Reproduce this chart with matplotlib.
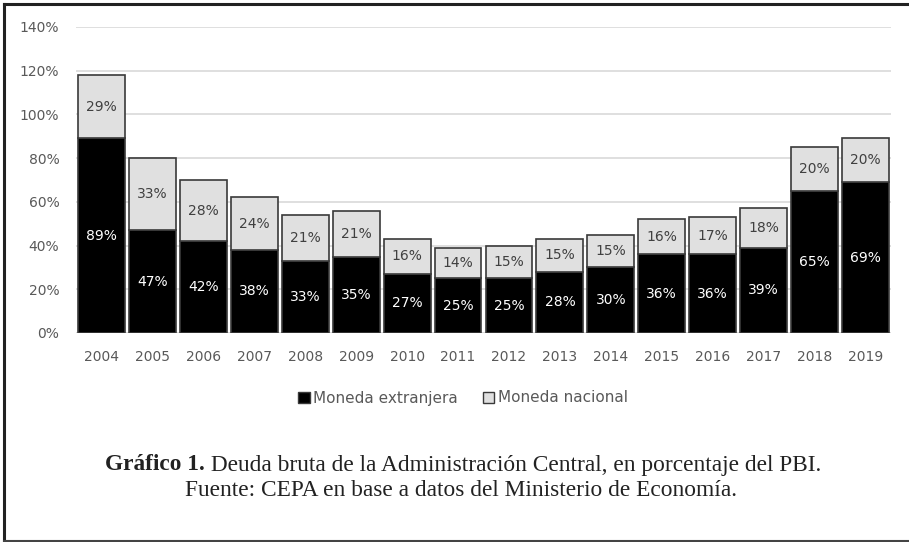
import matplotlib
matplotlib.use("Agg")
import matplotlib.pyplot as plt
from matplotlib.lines import Line2D
from matplotlib.patches import Patch

years = ["2004", "2005", "2006", "2007", "2008", "2009", "2010", "2011",
         "2012", "2013", "2014", "2015", "2016", "2017", "2018", "2019"]
moneda_extranjera = [89, 47, 42, 38, 33, 35, 27, 25, 25, 28, 30, 36, 36, 39, 65, 69]
moneda_nacional = [29, 33, 28, 24, 21, 21, 16, 14, 15, 15, 15, 16, 17, 18, 20, 20]
yticks = [0, 20, 40, 60, 80, 100, 120, 140]

W, H = 909, 542
fig = plt.figure(figsize=(W / 100, H / 100), dpi=100)
ax = fig.add_axes([76 / W, (H - 333) / H, (891 - 76) / W, 306 / H])

x = list(range(len(years)))
edge = "#3a3a3a"
ax.bar(x, moneda_extranjera, width=0.92, color="#000000", edgecolor=edge, linewidth=1.2, zorder=3)
ax.bar(x, moneda_nacional, bottom=moneda_extranjera, width=0.92, color="#e0e0e0",
       edgecolor=edge, linewidth=1.2, zorder=3)

for i in x:
    me = moneda_extranjera[i]
    mn = moneda_nacional[i]
    ax.text(i, me / 2, f"{me}%", ha="center", va="center", color="white", fontsize=10, zorder=4)
    ax.text(i, me + mn / 2, f"{mn}%", ha="center", va="center", color="#404040", fontsize=10, zorder=4)

ax.set_xlim(-0.5, len(years) - 0.5)
ax.set_ylim(0, 140)
ax.set_yticks(yticks)
ax.set_yticklabels([f"{v}%" for v in yticks])
ax.set_xticks(x)
ax.set_xticklabels(years)
ax.tick_params(axis="both", length=0, labelsize=10, colors="#595959")
ax.tick_params(axis="y", pad=12)
ax.tick_params(axis="x", pad=12)
ax.grid(axis="y", color="#d9d9d9", linewidth=1.2, zorder=0)
for s in ax.spines.values():
    s.set_visible(False)
ax.axhline(0, color="#d9d9d9", linewidth=1.2, zorder=1)

handles = [Patch(facecolor="#000000", edgecolor=edge, linewidth=1.0),
           Patch(facecolor="#e0e0e0", edgecolor=edge, linewidth=1.0)]
fig.legend(handles, ["Moneda extranjera", "Moneda nacional"], loc="center",
           bbox_to_anchor=(463 / W, 1 - 398 / H), ncol=2, frameon=False,
           fontsize=11, handlelength=0.75, handleheight=0.75, handletextpad=0.25,
           columnspacing=1.6, labelcolor="#595959")

# Caption
serif = "Liberation Serif"
fs = 16.8
fig.canvas.draw()
r = fig.canvas.get_renderer()
t1 = fig.text(0, 1 - 465 / H, "Gráfico 1.", fontsize=fs, fontweight="bold", family=serif,
              color="#222222", ha="left", va="center")
t2 = fig.text(0, 1 - 465 / H, " Deuda bruta de la Administración Central, en porcentaje del PBI.",
              fontsize=fs, family=serif, color="#222222", ha="left", va="center")
w1 = t1.get_window_extent(r).width
w2 = t2.get_window_extent(r).width
start = 463 - (w1 + w2) / 2
t1.set_x(start / W)
t2.set_x((start + w1) / W)
fig.text(461 / W, 1 - 490 / H, "Fuente: CEPA en base a datos del Ministerio de Economía.",
         fontsize=fs, family=serif, color="#222222", ha="center", va="center")

# Border
bc = "#222222"
fig.add_artist(Line2D([4 / W, 4 / W], [0, 1 - 4 / H], color=bc, linewidth=2.2, transform=fig.transFigure))
fig.add_artist(Line2D([4 / W, 1], [1 - 4 / H, 1 - 4 / H], color=bc, linewidth=2.2, transform=fig.transFigure))
fig.add_artist(Line2D([4 / W, 1], [1.5 / H, 1.5 / H], color="#444444", linewidth=1.5, transform=fig.transFigure))

fig.savefig("out.png", dpi=100)
